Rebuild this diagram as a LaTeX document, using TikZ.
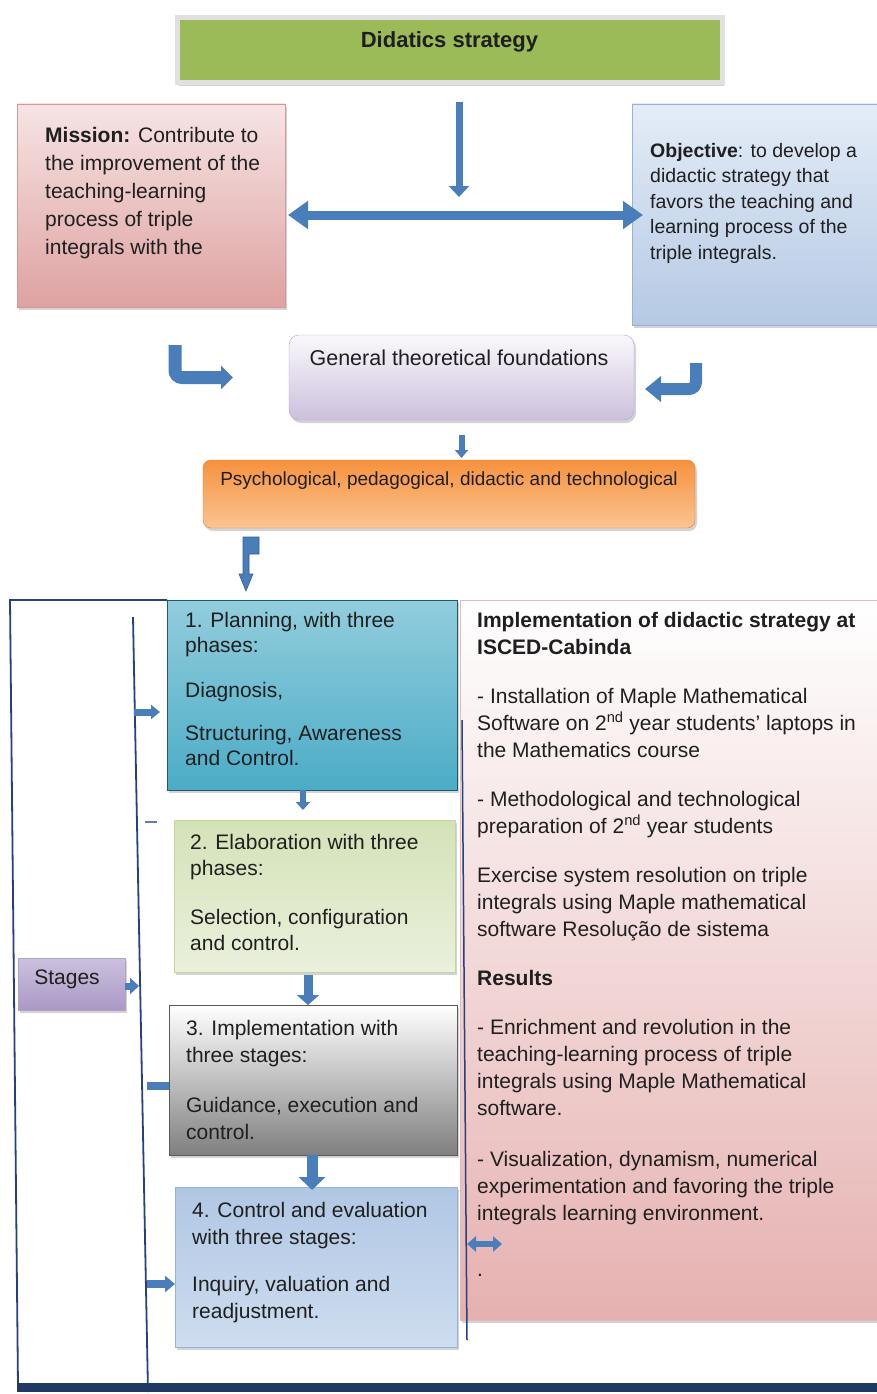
\documentclass[tikz,border=0pt]{standalone}
\usepackage{fontspec}
\setmainfont{Liberation Sans}
\usetikzlibrary{arrows.meta,shadows}

\definecolor{arrowblue}{RGB}{74,126,187}
\definecolor{arrowedge}{RGB}{56,93,138}
\definecolor{framenavy}{RGB}{38,64,128}
\definecolor{barnavy}{RGB}{31,56,100}
\definecolor{titlegreen}{RGB}{155,187,89}
\definecolor{missiontop}{RGB}{246,228,228}
\definecolor{missionbot}{RGB}{222,162,161}
\definecolor{missionedge}{RGB}{217,150,148}
\definecolor{objtop}{RGB}{228,236,247}
\definecolor{objbot}{RGB}{181,201,228}
\definecolor{objedge}{RGB}{149,179,215}
\definecolor{gentop}{RGB}{250,248,252}
\definecolor{genbot}{RGB}{204,192,220}
\definecolor{genedge}{RGB}{176,163,200}
\definecolor{orangetop}{RGB}{246,146,62}
\definecolor{orangebot}{RGB}{251,196,146}
\definecolor{orangeedge}{RGB}{228,120,40}
\definecolor{planteal}{RGB}{75,172,198}
\definecolor{plantop}{RGB}{146,205,221}
\definecolor{planedge}{RGB}{33,89,104}
\definecolor{elabtop}{RGB}{212,226,184}
\definecolor{elabbot}{RGB}{234,240,220}
\definecolor{elabedge}{RGB}{195,214,155}
\definecolor{impledge}{RGB}{89,89,89}
\definecolor{ctrltop}{RGB}{176,199,228}
\definecolor{ctrlbot}{RGB}{206,221,239}
\definecolor{stagestop}{RGB}{204,193,222}
\definecolor{stagesbot}{RGB}{170,152,196}
\definecolor{panelbot}{RGB}{229,177,176}
\definecolor{paneledge}{RGB}{230,185,184}

\tikzset{
  box/.style={draw, inner sep=0pt, outer sep=0pt, anchor=north west,
    drop shadow={opacity=0.35, shadow xshift=2pt, shadow yshift=-3pt}},
  txt/.style={inner sep=0pt, align=left, anchor=north west, text=black!88},
  fat/.style={arrowblue, line width=#1},
  thinframe/.style={framenavy, line width=1.8pt}
}

\begin{document}
\begin{tikzpicture}[x=1pt,y=-1pt]
    \useasboundingbox (0,0) rectangle (877,1394);
    % Top row
    \node[box, draw=black!12, line width=5pt, fill=titlegreen, minimum width=545pt, minimum height=65pt] (title) at (177,18) {};
    \node[font=\bfseries\fontsize{22}{26}\selectfont, anchor=base, text=black!88] (titletxt) at (449.5,48) {Didatics strategy};
    %
    \node[box, draw=missionedge, top color=missiontop, bottom color=missionbot, minimum width=268pt, minimum height=203pt] (mission) at (17,104) {};
    \node[txt, font=\fontsize{21}{28}\selectfont] (missiontxt) at ([shift={(28,23)}]mission.north west)
        {\textbf{Mission:} Contribute to\\the improvement of the\\teaching-learning\\process of triple\\integrals with the};
    %
    \node[box, draw=objedge, top color=objtop, bottom color=objbot, minimum width=245pt, minimum height=221pt] (objective) at (632,104) {};
    \node[txt, font=\fontsize{19.5}{25.5}\selectfont] (objtxt) at ([shift={(18,39)}]objective.north west)
        {\textbf{Objective}: to develop a\\didactic strategy that\\favors the teaching and\\learning process of the\\triple integrals.};
    %
    \coordinate (hub) at (459,215);
    \draw[fat=7, -{Triangle[width=20pt,length=11pt]}, shorten <=19pt, shorten >=18pt] (hub |- title.south) -- (hub);
    \draw[fat=9, {Triangle[width=27pt,length=20pt]}-{Triangle[width=27pt,length=20pt]}, shorten <=3pt, shorten >=-11pt] (mission.east |- hub) -- (objective.west |- hub);

    % Foundations
    \node[box, draw=genedge, rounded corners=10pt, top color=gentop, bottom color=genbot, minimum width=345pt, minimum height=85pt] (gen) at (289,335) {};
    \node[font=\fontsize{21.5}{26}\selectfont, anchor=base, text=black!88] (gentxt) at (459,365) {General theoretical foundations};
    \draw[fat=13, rounded corners=7pt, -{Triangle[width=23pt,length=12pt]}, shorten >=56pt] ([shift={(158,38)}]mission.south west) |- (gen.west);
    \draw[fat=12, rounded corners=7pt, -{Triangle[width=25pt,length=16pt]}, shorten >=11pt] ([shift={(64,38)}]objective.south west) |- ([yshift=-11.5pt]gen.east);
    %
    \node[box, draw=orangeedge, rounded corners=8pt, top color=orangetop, bottom color=orangebot, minimum width=492pt, minimum height=68pt] (orange) at (203,460) {};
    \node[font=\fontsize{19}{24}\selectfont, anchor=base, text=black!88] (orangetxt) at (449,485) {Psychological, pedagogical, didactic and technological};
    \draw[fat=6, -{Triangle[width=13pt,length=8pt]}, shorten <=15pt, shorten >=2pt] (gen.south) -- (gen.south |- orange.north);

    % Stages
    \node[box, draw=planedge, top color=plantop, bottom color=planteal, minimum width=290pt, minimum height=190pt] (plan) at (167,600) {};
    \node[txt, font=\fontsize{21}{25}\selectfont] (plantxt) at ([shift={(18,12)}]plan.north west)
        {1. Planning, with three\\phases:\\[20pt]Diagnosis,\\[18pt]Structuring, Awareness\\and Control.};
    %
    \node[box, draw=elabedge, top color=elabtop, bottom color=elabbot, minimum width=281pt, minimum height=152pt] (elab) at (174,820) {};
    \node[txt, font=\fontsize{21}{26}\selectfont] (elabtxt) at ([shift={(16,14)}]elab.north west)
        {2. Elaboration with three\\phases:\\[23pt]Selection, configuration\\and control.};
    %
    \node[box, draw=impledge, top color=white, bottom color=black!50, minimum width=288pt, minimum height=150pt] (impl) at (169,1005) {};
    \node[txt, font=\fontsize{21}{27}\selectfont] (impltxt) at ([shift={(17,15)}]impl.north west)
        {3. Implementation with\\three stages:\\[23pt]Guidance, execution and\\control.};
    %
    \node[box, draw=objedge, top color=ctrltop, bottom color=ctrlbot, minimum width=282pt, minimum height=160pt] (ctrl) at (175,1187) {};
    \node[txt, font=\fontsize{21}{27}\selectfont] (ctrltxt) at ([shift={(17,15)}]ctrl.north west)
        {4. Control and evaluation\\with three stages:\\[20pt]Inquiry, valuation and\\readjustment.};
    %
    \node[box, draw=genedge, top color=stagestop, bottom color=stagesbot, minimum width=107pt, minimum height=52pt] (stages) at (18,958) {};
    \node[font=\fontsize{21}{26}\selectfont, anchor=base, text=black!88] (stagestxt) at (67,984) {Stages};

    % Results panel
    \node[box, draw=paneledge, top color=white, bottom color=panelbot, minimum width=417pt, minimum height=720pt] (results) at (460,600) {};
    \node[txt, font=\fontsize{21}{27}\selectfont] (resultstxt) at ([shift={(17,12)}]results.north west)
        {\textbf{Implementation of didactic strategy at}\\\textbf{ISCED-Cabinda}\\[22pt]
         - Installation of Maple Mathematical\\Software on 2\textsuperscript{nd} year students' laptops in\\the Mathematics course\\[22pt]
         - Methodological and technological\\preparation of 2\textsuperscript{nd} year students\\[22pt]
         Exercise system resolution on triple\\integrals using Maple mathematical\\software Resolução de sistema\\[22pt]
         \textbf{Results}\\[22pt]
         - Enrichment and revolution in the\\teaching-learning process of triple\\integrals using Maple Mathematical\\software.\\[24pt]
         - Visualization, dynamism, numerical\\experimentation and favoring the triple\\integrals learning environment.\\[29pt]
         .};
    \draw[thinframe, line width=1.5pt] (462,720) -- (467,1340);

    % Frame
    \coordinate (spinetop) at (133,617);
    \coordinate (spinebot) at (148,1392);
    \draw[thinframe] (plan.north west) -- (10,600) -- (18,1386);
    \draw[thinframe] (spinetop) -- (spinebot);
    \draw[barnavy, line width=9pt] (17,1387) -- (877,1387);
    \draw[framenavy!70, line width=1.5pt] (145,822) -- (157,822);

    % Arrows between stages
    \draw[fat=7, -{Triangle[width=14pt,length=9pt]}, shorten >=7pt] (134,712) -- ([yshift=-17pt]plan.west);
    \draw[fat=7, -{Triangle[width=16pt,length=9pt]}] ([yshift=-2pt]stages.east) -- ++(14,0);
    \draw[fat=8] (147,1086) -- ([yshift=-6pt]impl.west);
    \draw[fat=8, -{Triangle[width=16pt,length=10pt]}] (147,1284) -- ([yshift=-17pt]ctrl.west);
    \draw[fat=6, -{Triangle[width=14pt,length=8pt]}, shorten >=10pt] ([xshift=-9pt]plan.south) -- ([xshift=-9pt]plan.south |- elab.north);
    \draw[fat=9, -{Triangle[width=22pt,length=10pt]}, shorten <=3pt] ([xshift=-6.5pt]elab.south) -- ([xshift=-6.5pt]elab.south |- impl.north);
    \draw[fat=11, -{Triangle[width=26pt,length=13pt]}, shorten >=-3pt] ([xshift=-1pt]impl.south) -- ([xshift=-1pt]impl.south |- ctrl.north);
    \draw[fat=6, {Triangle[width=15pt,length=9pt]}-{Triangle[width=15pt,length=9pt]}] ([shift={(10,-23)}]ctrl.east) -- ++(35,0);
    \filldraw[fill=arrowblue, draw=arrowedge, line width=0.6pt] ([shift={(40,9)}]orange.south west) -- ++(16,0) -- ++(0,17) -- ++(-10,0) -- ++(0,20) -- ++(4,0) -- ++(-7,17) -- ++(-7,-17) -- ++(4,0) -- cycle;
\end{tikzpicture}
\end{document}
